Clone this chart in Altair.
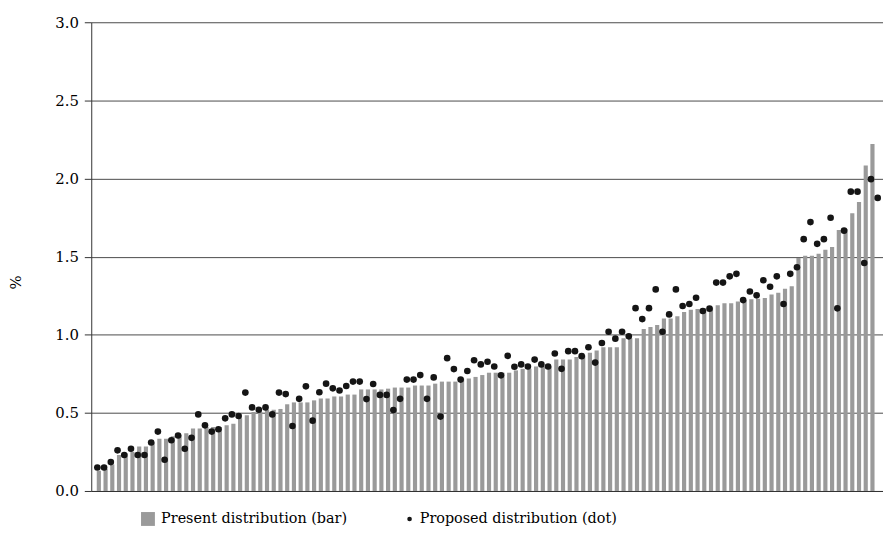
import altair as alt
import pandas as pd

# Present distribution (bars), sorted ascending
present = [
    0.13, 0.14, 0.17, 0.23, 0.24, 0.25, 0.285, 0.285, 0.31, 0.335,
    0.335, 0.35, 0.36, 0.37, 0.40, 0.40, 0.41, 0.41, 0.41, 0.42,
    0.43, 0.465, 0.485, 0.505, 0.505, 0.52, 0.52, 0.525, 0.555, 0.567,
    0.567, 0.567, 0.58, 0.592, 0.592, 0.605, 0.605, 0.617, 0.617, 0.65,
    0.65, 0.65, 0.65, 0.655, 0.662, 0.662, 0.662, 0.675, 0.675, 0.675,
    0.687, 0.70, 0.70, 0.70, 0.72, 0.72, 0.73, 0.742, 0.757, 0.757,
    0.757, 0.757, 0.772, 0.782, 0.782, 0.797, 0.797, 0.797, 0.841, 0.841,
    0.841, 0.857, 0.871, 0.884, 0.899, 0.92, 0.92, 0.92, 0.977, 0.977,
    0.977, 1.036, 1.049, 1.062, 1.104, 1.104, 1.119, 1.146, 1.16, 1.165,
    1.17, 1.175, 1.188, 1.201, 1.201, 1.212, 1.222, 1.227, 1.231, 1.235,
    1.258, 1.269, 1.294, 1.311, 1.491, 1.506, 1.506, 1.518, 1.544, 1.561,
    1.671, 1.677, 1.777, 1.85, 2.083, 2.221,
]

# Proposed distribution (dots); the last one belongs to a bar cut off at the edge
proposed = [
    0.15, 0.15, 0.185, 0.26, 0.23, 0.27, 0.23, 0.23, 0.31, 0.38,
    0.20, 0.325, 0.355, 0.27, 0.34, 0.49, 0.42, 0.38, 0.395, 0.465,
    0.49, 0.48, 0.63, 0.535, 0.52, 0.535, 0.49, 0.63, 0.62, 0.416,
    0.59, 0.67, 0.45, 0.632, 0.687, 0.657, 0.643, 0.672, 0.70, 0.70,
    0.588, 0.685, 0.615, 0.615, 0.518, 0.59, 0.713, 0.713, 0.742, 0.59,
    0.727, 0.476, 0.85, 0.78, 0.713, 0.768, 0.837, 0.81, 0.827, 0.797,
    0.74, 0.865, 0.795, 0.81, 0.797, 0.841, 0.81, 0.797, 0.88, 0.782,
    0.895, 0.895, 0.863, 0.92, 0.822, 0.947, 1.019, 0.975, 1.019, 0.99,
    1.17, 1.10, 1.17, 1.29, 1.019, 1.13, 1.29, 1.184, 1.197, 1.237,
    1.152, 1.167, 1.334, 1.334, 1.374, 1.39, 1.222, 1.277, 1.252, 1.349,
    1.307, 1.374, 1.197, 1.39, 1.432, 1.612, 1.721, 1.582, 1.612, 1.749,
    1.169, 1.666, 1.916, 1.916, 1.459, 1.996, 1.876,
]

series_labels = ["Present distribution (bar)", "Proposed distribution (dot)"]
y_ticks = [0.0, 0.5, 1.0, 1.5, 2.0, 2.5, 3.0]

bars_df = pd.DataFrame({
    "idx": list(range(1, len(present) + 1)),
    "value": present,
    "series": series_labels[0],
})
dots_df = pd.DataFrame({
    "idx": list(range(1, len(proposed) + 1)),
    "value": proposed,
    "series": series_labels[1],
})

FONT = "DejaVu Serif"

x_scale = alt.Scale(domain=[0.607, 116.83], nice=False, zero=False)
y_scale = alt.Scale(domain=[0, 3], nice=False)

x_axis = alt.Axis(title=None, labels=False, ticks=False, grid=False,
                  domain=True, domainColor="#333333", domainWidth=1)
y_axis = alt.Axis(
    title="%", values=y_ticks, format=".1f",
    labelFont=FONT, labelFontSize=15, labelColor="black", labelPadding=6,
    tickSize=7, tickColor="#333333", domainColor="#333333", domainWidth=1,
    grid=True, gridColor="#4a4a4a", gridWidth=1,
    titleFont=FONT, titleFontSize=15, titleFontWeight="normal", titleColor="black",
    titleX=-76, titleY=262, titleAngle=270, titleAlign="center", titleBaseline="middle",
)

bars = alt.Chart(bars_df).mark_bar(size=4.2, clip=True).encode(
    x=alt.X("idx:Q", scale=x_scale, axis=x_axis),
    y=alt.Y("value:Q", scale=y_scale, axis=y_axis),
    color=alt.Color(
        "series:N",
        scale=alt.Scale(domain=[series_labels[0]], range=["#9a9a9a"]),
        legend=alt.Legend(
            title=None, orient="none", legendX=50, legendY=494, padding=0,
            symbolType="square", symbolSize=196, symbolStrokeWidth=0,
            labelFont=FONT, labelFontSize=14.5, labelColor="black", labelOffset=6,
            labelLimit=400,
        ),
    ),
)

dots = alt.Chart(dots_df).mark_point(
    filled=True, size=45, opacity=1, color="#151515", clip=True, xOffset=-1.5
).encode(
    x=alt.X("idx:Q", scale=x_scale, axis=x_axis),
    y=alt.Y("value:Q", scale=y_scale, axis=y_axis),
    shape=alt.Shape(
        "series:N",
        scale=alt.Scale(domain=[series_labels[1]], range=["circle"]),
        legend=alt.Legend(
            title=None, orient="none", legendX=314, legendY=494, padding=0,
            symbolSize=22, symbolFillColor="black", symbolStrokeColor="black",
            symbolStrokeWidth=0,
            labelFont=FONT, labelFontSize=14.5, labelColor="black", labelOffset=3,
            labelLimit=400,
        ),
    ),
)

chart = alt.layer(bars, dots).properties(
    width=799, height=473,
    padding={"left": 84, "top": 12, "right": 0, "bottom": 40},
    autosize=alt.AutoSizeParams(type="none"),
    background="white",
).configure_view(stroke=None)

chart.save("out.html", embed_options={"renderer": "svg", "actions": False})
